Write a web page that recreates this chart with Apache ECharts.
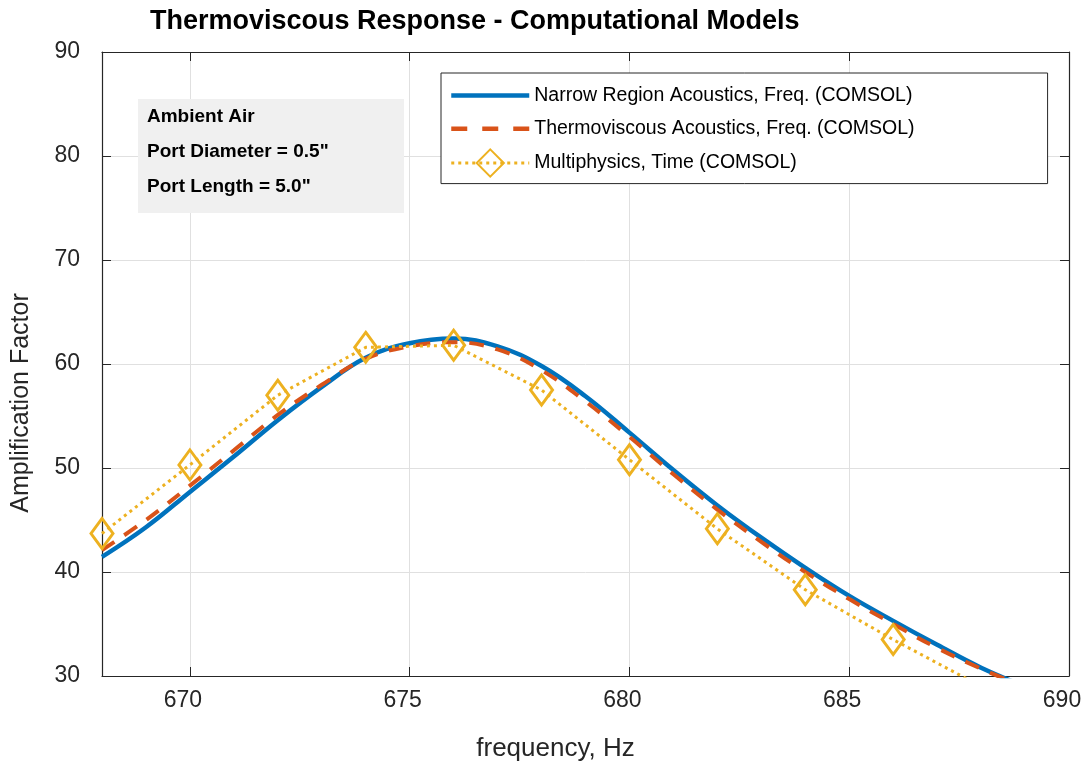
<!DOCTYPE html>
<html>
<head>
<meta charset="utf-8">
<script src="https://cdn.jsdelivr.net/npm/echarts@6/dist/echarts.min.js"></script>
<style>
  html, body { margin: 0; padding: 0; background: #fff; }
  #chart { width: 1081px; height: 765px; }
</style>
</head>
<body>
<div id="chart"></div>
<script>
  // frequency grid of the two frequency-domain solutions (Hz)
  const freqSweep = [668, 669, 670, 671, 672, 673, 674, 675, 676, 677, 678,
    679, 680, 681, 682, 683, 684, 685, 686, 687, 688, 689]
  const narrowRegion = [41.45, 44.3, 47.7, 51.1, 54.6, 57.8, 60.6, 62.0, 62.45, 61.7, 59.8,
    56.9, 53.4, 49.8, 46.4, 43.3, 40.4, 37.7, 35.3, 33.0, 30.8, 29.0]
  const thermoviscous = [42.1, 45.0, 48.3, 51.7, 55.1, 58.0, 60.5, 61.7, 62.1, 61.4, 59.4,
    56.4, 53.0, 49.4, 46.0, 42.9, 40.0, 37.4, 35.0, 32.7, 30.7, 28.9]
  // time-domain runs
  const freqTime = [668, 670, 672, 674, 676, 678, 680, 682, 684, 686, 688]
  const multiphysics = [43.7, 50.3, 57.0, 61.6, 61.8, 57.5, 50.8, 44.15, 38.3, 33.5, 29.0]

  const seriesNames = [
    'Narrow Region Acoustics, Freq. (COMSOL)',
    'Thermoviscous Acoustics, Freq. (COMSOL)',
    'Multiphysics, Time (COMSOL)'
  ]
  const noteLines = ['Ambient Air', 'Port Diameter = 0.5"', 'Port Length = 5.0"']

  const FONT = '"Liberation Sans", Arial, Helvetica, sans-serif'
  const AXIS_COLOR = '#262626'

  const pairs = (xs, ys) => xs.map((x, i) => [x, ys[i]])

  const chart = echarts.init(document.getElementById('chart'), null, { renderer: 'canvas' })

  const boxAxis = {
    axisLine: { show: true, onZero: false, lineStyle: { color: AXIS_COLOR, width: 1.2 } },
    axisTick: { show: true, inside: true, length: 9, lineStyle: { color: AXIS_COLOR } },
    axisLabel: { show: false },
    splitLine: { show: false }
  }

  // legend shows only the line for the two curves without markers
  const noMarker = { color: 'transparent', borderWidth: 0, opacity: 0 }

  chart.setOption({
    animation: false,
    textStyle: { fontFamily: FONT },
    title: {
      text: 'Thermoviscous Response - Computational Models',
      left: 145,
      top: 3,
      textStyle: { fontSize: 27, fontWeight: 'bold', color: '#000', fontFamily: FONT }
    },
    grid: { left: 102, right: 12, top: 52, bottom: 89, outerBoundsMode: 'none', containLabel: false },
    legend: {
      data: [
        { name: seriesNames[0], itemStyle: noMarker, lineStyle: { width: 4.5 } },
        { name: seriesNames[1], itemStyle: noMarker, lineStyle: { width: 4.5, type: [16, 15] } },
        { name: seriesNames[2], lineStyle: { width: 3 } }
      ],
      orient: 'vertical',
      left: 441,
      top: 73,
      padding: [9, 133, 6, 8],
      itemWidth: 78,
      itemHeight: 34,
      itemGap: 6,
      borderColor: AXIS_COLOR,
      borderWidth: 1,
      backgroundColor: '#fff',
      textStyle: { fontSize: 19.5, color: '#000', fontFamily: FONT }
    },
    xAxis: [{
      type: 'value',
      min: 668,
      max: 690,
      splitNumber: 4,
      name: 'frequency, Hz',
      nameLocation: 'middle',
      nameGap: 60,
      nameTextStyle: { fontSize: 26, color: AXIS_COLOR, padding: [0, 60, 0, 0] },
      axisLine: { show: true, onZero: false, lineStyle: { color: AXIS_COLOR, width: 1.2 } },
      axisTick: { show: true, inside: true, length: 9, lineStyle: { color: AXIS_COLOR } },
      axisLabel: { fontSize: 23, color: AXIS_COLOR, margin: 13, showMinLabel: false, padding: [0, 14, 0, 0] },
      splitLine: { show: true, lineStyle: { color: '#e0e0e0', width: 1 } }
    }, Object.assign({ type: 'value', min: 668, max: 690, splitNumber: 4, position: 'top' }, boxAxis)],
    yAxis: [{
      type: 'value',
      min: 30,
      max: 90,
      interval: 10,
      name: 'Amplification Factor',
      nameLocation: 'middle',
      nameGap: 68,
      nameRotate: 90,
      nameTextStyle: { fontSize: 25, color: AXIS_COLOR, padding: [0, 78, 0, 0] },
      axisLine: { show: true, onZero: false, lineStyle: { color: AXIS_COLOR, width: 1.2 } },
      axisTick: { show: true, inside: true, length: 9, lineStyle: { color: AXIS_COLOR } },
      axisLabel: { fontSize: 23, color: AXIS_COLOR, margin: 22 },
      splitLine: { show: true, lineStyle: { color: '#e0e0e0', width: 1 } }
    }, Object.assign({ type: 'value', min: 30, max: 90, interval: 10, position: 'right' }, boxAxis)],
    series: [
      {
        name: seriesNames[0],
        type: 'line',
        data: pairs(freqSweep, narrowRegion),
        smooth: 0.4,
        symbol: 'none',
        clip: true,
        z: 2,
        lineStyle: { color: '#0072BD', width: 4.5 },
        itemStyle: { color: '#0072BD' }
      },
      {
        name: seriesNames[1],
        type: 'line',
        data: pairs(freqSweep, thermoviscous),
        smooth: 0.4,
        symbol: 'none',
        clip: true,
        z: 3,
        lineStyle: { color: '#D95319', width: 4, type: [15, 12] },
        itemStyle: { color: '#D95319' }
      },
      {
        name: seriesNames[2],
        type: 'line',
        data: pairs(freqTime, multiphysics),
        symbol: 'diamond',
        symbolSize: [22, 30],
        showSymbol: true,
        clip: true,
        z: 4,
        lineStyle: { color: '#EDB120', width: 3, type: [3, 4] },
        itemStyle: { color: 'transparent', borderColor: '#EDB120', borderWidth: 3 }
      }
    ],
    graphic: [{
      type: 'group',
      left: 138,
      top: 99,
      z: 50,
      children: [{
        type: 'rect',
        z: 50,
        shape: { x: 0, y: 0, width: 266, height: 114 },
        style: { fill: '#f0f0f0' }
      }].concat(noteLines.map((t, i) => ({
        type: 'text',
        z: 51,
        x: 9,
        y: 18 + i * 35,
        style: {
          text: t,
          fontSize: 19,
          fontWeight: 'bold',
          fontFamily: FONT,
          fill: '#000',
          verticalAlign: 'middle'
        }
      })))
    }]
  })
</script>
</body>
</html>
